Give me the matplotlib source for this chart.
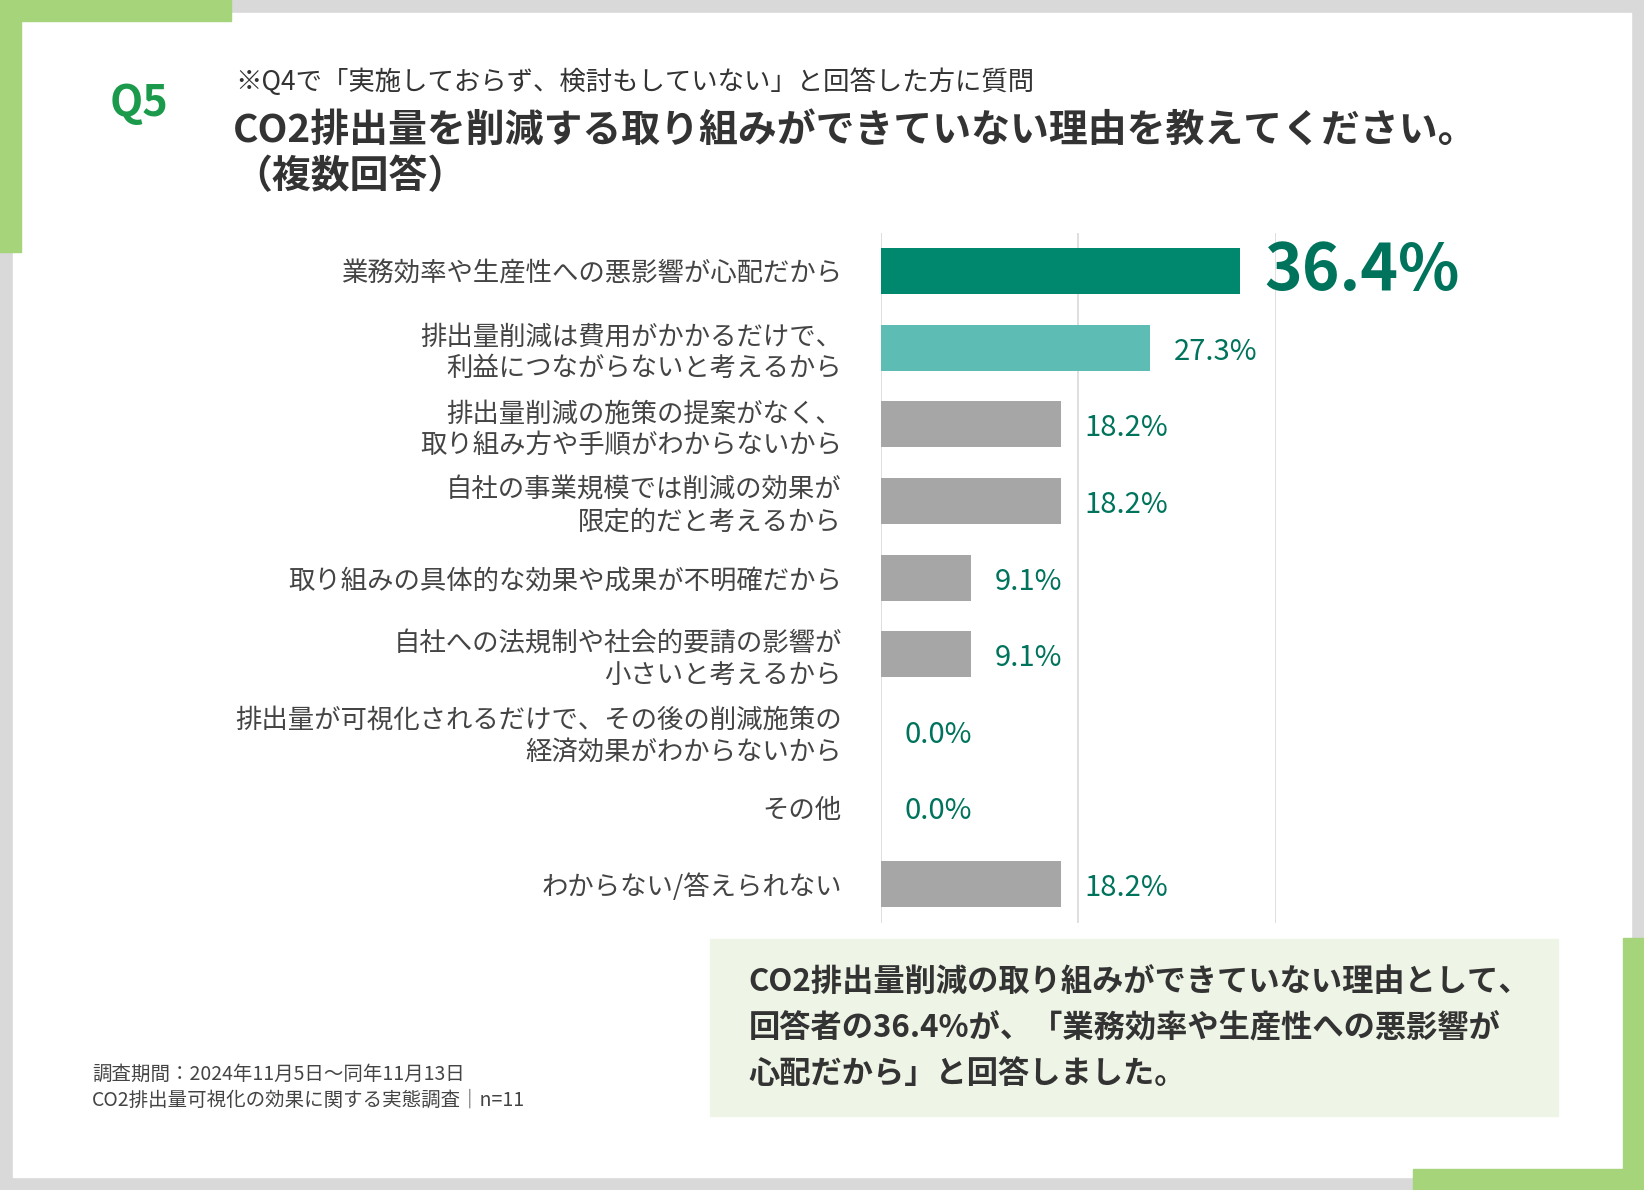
import matplotlib
matplotlib.use("Agg")
import matplotlib.pyplot as plt
from matplotlib.patches import Rectangle

plt.rcParams['font.family'] = ['Noto Sans CJK JP', 'DejaVu Sans']

categories = ["業務効率や生産性への悪影響が心配だから",
              "排出量削減は費用がかかるだけで、\n利益につながらないと考えるから",
              "排出量削減の施策の提案がなく、\n取り組み方や手順がわからないから",
              "自社の事業規模では削減の効果が\n限定的だと考えるから",
              "取り組みの具体的な効果や成果が不明確だから",
              "自社への法規制や社会的要請の影響が\n小さいと考えるから",
              "排出量が可視化されるだけで、その後の削減施策の\n経済効果がわからないから",
              "その他",
              "わからない/答えられない"]
values = [36.4, 27.3, 18.2, 18.2, 9.1, 9.1, 0.0, 0.0, 18.2]
colors = ["#00886f", "#5dbdb4"] + ["#a6a6a6"] * 7

W, H = 1568, 1135
fig = plt.figure(figsize=(16.44, 11.9), dpi=100)
fig.patch.set_facecolor("#d9d9d9")

def R(x0, y0, x1, y1, c):
    fig.patches.append(Rectangle((x0 / W, 1 - y1 / H), (x1 - x0) / W, (y1 - y0) / H,
                                 transform=fig.transFigure, color=c, zorder=-5))

R(12, 12, 1556, 1123, "white")
R(0, 0, 220, 20, "#a5d47a"); R(0, 0, 20, 240, "#a5d47a")
R(1548, 895, 1568, 1135, "#a5d47a"); R(1348, 1115, 1568, 1135, "#a5d47a")
R(677, 896, 1486, 1064, "#eef5e6")

def T(x, y, s, **kw):
    fig.text(x / W, 1 - y / H, s, **kw)

T(105, 98, "Q5", fontsize=31, fontweight="bold", color="#1a9a4a", va="center")
T(224, 78, "※Q4で「実施しておらず、検討もしていない」と回答した方に質問", fontsize=19, color="#333333", va="center")
T(222, 124, "CO2排出量を削減する取り組みができていない理由を教えてください。", fontsize=28, fontweight="bold", color="#333333", va="center")
T(222, 168, "（複数回答）", fontsize=28, fontweight="bold", color="#333333", va="center")
T(714, 981, "CO2排出量削減の取り組みができていない理由として、\n回答者の36.4%が、「業務効率や生産性への悪影響が\n心配だから」と回答しました。",
  fontsize=22.5, fontweight="bold", color="#333333", va="center", linespacing=1.55)
T(88, 1037, "調査期間：2024年11月5日〜同年11月13日\nCO2排出量可視化の効果に関する実態調査｜n=11",
  fontsize=14, color="#444444", va="center", linespacing=1.3)

ax = fig.add_axes([840 / W, 1 - 880 / H, (1217 - 840) / W, (880 - 222) / H])
ax.set_zorder(5)
ax.set_xlim(0, 40)
ax.set_ylim(8.5, -0.5)
ys = list(range(len(values)))
ax.barh(ys, values, height=0.6, color=colors, zorder=2)
for i, v in enumerate(values):
    if i == 0:
        ax.text(v + 2.4, i, f"{v:.1f}%", fontsize=46, fontweight="bold", color="#00735c", va="center", clip_on=False)
    else:
        ax.text(v + 2.4, i + 0.05, f"{v:.1f}%", fontsize=21, color="#00735c", va="center", clip_on=False)
ax.set_yticks(ys)
ax.set_yticklabels(categories, fontsize=19, color="#444444", linespacing=1.2)
ax.tick_params(axis="y", length=0, pad=28)
ax.set_xticks([0, 20, 40])
ax.tick_params(axis="x", length=0, labelbottom=False)
ax.grid(axis="x", color="#d9d9d9", linewidth=1.2, zorder=0)
for s in ax.spines.values():
    s.set_visible(False)
ax.set_facecolor("none")

fig.savefig("out.png", dpi=100, facecolor=fig.get_facecolor())
